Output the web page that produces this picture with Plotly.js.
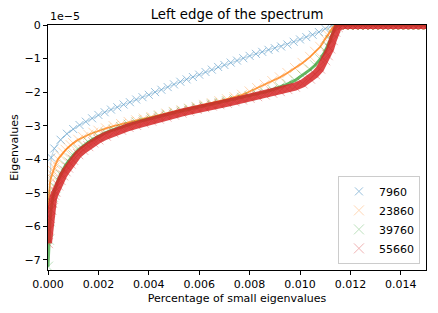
<!DOCTYPE html>
<html>
<head>
<meta charset="utf-8">
<script src="https://cdn.plot.ly/plotly-3.0.1.min.js"></script>
<style>
  html, body { margin: 0; padding: 0; background: #ffffff; }
  #chart { width: 438px; height: 313px; }
</style>
</head>
<body>
<div id="chart"></div>
<script>
// Eigenvalues are in units of 1e-5 (axis offset label "1e−5")
const seriesNames = ["7960", "23860", "39760", "55660"];
const seriesColors = ["#1f77b4", "#ff7f0e", "#2ca02c", "#d62728"];

const blueX = [0, 0.000126, 0.00025, 0.0005, 0.00075, 0.001, 0.00125, 0.0015, 0.00175, 0.002,
  0.00225, 0.0025, 0.00275, 0.003, 0.00325, 0.0035, 0.00375, 0.004, 0.00425, 0.0045,
  0.00475, 0.005, 0.00525, 0.0055, 0.00575, 0.006, 0.00625, 0.0065, 0.00675, 0.007,
  0.00725, 0.0075, 0.00775, 0.008, 0.00825, 0.0085, 0.00875, 0.009, 0.00925, 0.0095,
  0.00975, 0.01, 0.01025, 0.0105, 0.01075, 0.011, 0.01125, 0.0115];
const blueY = [-5.7, -3.95, -3.68, -3.42, -3.24, -3.1, -2.98, -2.88, -2.78, -2.68,
  -2.6, -2.52, -2.45, -2.37, -2.3, -2.22, -2.15, -2.08, -2.0, -1.93,
  -1.85, -1.77, -1.69, -1.62, -1.55, -1.48, -1.4, -1.33, -1.25, -1.19,
  -1.12, -1.06, -0.99, -0.92, -0.86, -0.8, -0.74, -0.69, -0.64, -0.58,
  -0.5, -0.43, -0.36, -0.29, -0.21, -0.11, -0.02, 0];

const gridX = [0, 0.00004, 0.00008, 0.00012, 0.00016, 0.0002, 0.00025, 0.0003, 0.0004, 0.0005,
  0.0006, 0.0007, 0.0008, 0.0009, 0.001, 0.0012, 0.0014, 0.0016, 0.0018, 0.002,
  0.0023, 0.0026, 0.0029, 0.0032, 0.0035, 0.0038, 0.0041, 0.0044, 0.0047, 0.005,
  0.0053, 0.0056, 0.0059, 0.0062, 0.0065, 0.0068, 0.0071, 0.0074, 0.0077, 0.008,
  0.0083, 0.0086, 0.0089, 0.0092, 0.0095, 0.0098, 0.0101, 0.0104, 0.0106, 0.0108,
  0.011, 0.0111, 0.0112, 0.0113, 0.0114, 0.0115];
const orangeY = [-5.5, -4.95, -4.7, -4.55, -4.45, -4.35, -4.25, -4.15, -4.0, -3.9,
  -3.8, -3.72, -3.65, -3.58, -3.52, -3.42, -3.34, -3.27, -3.21, -3.15,
  -3.08, -3.01, -2.95, -2.89, -2.84, -2.79, -2.74, -2.69, -2.64, -2.59,
  -2.54, -2.49, -2.44, -2.38, -2.33, -2.27, -2.21, -2.15, -2.08, -1.98,
  -1.88, -1.78, -1.67, -1.56, -1.43, -1.28, -1.13, -0.95, -0.8, -0.65,
  -0.42, -0.3, -0.2, -0.08, 0, 0];
const greenY = [-7.2, -6.4, -5.85, -5.5, -5.28, -5.12, -4.97, -4.84, -4.63, -4.46,
  -4.31, -4.18, -4.07, -3.97, -3.88, -3.72, -3.6, -3.49, -3.4, -3.32,
  -3.21, -3.12, -3.04, -2.97, -2.9, -2.84, -2.78, -2.72, -2.67, -2.61,
  -2.56, -2.51, -2.46, -2.41, -2.36, -2.32, -2.27, -2.22, -2.17, -2.12,
  -2.06, -2.0, -1.93, -1.85, -1.76, -1.65, -1.5, -1.33, -1.2, -1.02,
  -0.78, -0.63, -0.45, -0.25, -0.08, 0];
const redY = [-6.5, -6.1, -5.75, -5.5, -5.3, -5.18, -5.06, -4.96, -4.78, -4.62,
  -4.48, -4.36, -4.25, -4.13, -4.02, -3.85, -3.72, -3.61, -3.5, -3.41,
  -3.3, -3.2, -3.12, -3.04, -2.98, -2.91, -2.85, -2.79, -2.73, -2.67,
  -2.61, -2.56, -2.5, -2.45, -2.4, -2.36, -2.32, -2.27, -2.22, -2.17,
  -2.12, -2.07, -2.02, -1.97, -1.91, -1.84, -1.74, -1.6, -1.47, -1.3,
  -1.05, -0.9, -0.7, -0.45, -0.2, -0.06];

const tailX = [0.0117, 0.0119, 0.0121, 0.0123, 0.0125, 0.0127, 0.0129, 0.0131, 0.0133, 0.0135,
  0.0137, 0.0139, 0.0141, 0.0143, 0.0145, 0.0147, 0.0149, 0.0151];
const tailY = [0, 0, 0, 0, 0, 0, 0, 0, 0, 0, 0, 0, 0, 0, 0, 0, 0, 0];

const xTickVals = [0, 0.002, 0.004, 0.006, 0.008, 0.010, 0.012, 0.014];
const yTickVals = [-7, -6, -5, -4, -3, -2, -1, 0];

const seriesX = [blueX.concat(tailX), gridX.concat(tailX), gridX.concat(tailX), gridX.concat(tailX)];
const seriesY = [blueY.concat(tailY), orangeY.concat(tailY), greenY.concat(tailY), redY.concat(tailY)];
const bandWidth = [1, 1.8, 3, 8];
const bandOpacity = [0.3, 0.75, 0.7, 0.85];
const markerSize = [8, 10, 10, 10];
const markerOpacity = [0.45, 0.3, 0.3, 0.35];

const traces = [];
for (let i = 0; i < 4; i++) {
  traces.push({
    x: seriesX[i], y: seriesY[i], type: 'scatter', mode: 'lines',
    line: {color: seriesColors[i], width: bandWidth[i]},
    opacity: bandOpacity[i], showlegend: false, hoverinfo: 'skip'
  });
  traces.push({
    x: seriesX[i], y: seriesY[i], type: 'scatter', mode: 'markers', name: seriesNames[i],
    marker: {symbol: 'x-thin', size: markerSize[i], color: seriesColors[i], opacity: markerOpacity[i],
             line: {width: 1, color: seriesColors[i]}}
  });
}

const layout = {
  width: 438, height: 313,
  margin: {l: 48, r: 12, t: 25, b: 43, pad: 0},
  paper_bgcolor: '#ffffff', plot_bgcolor: '#ffffff',
  font: {family: 'DejaVu Sans', size: 11, color: '#000000'},
  title: {text: 'Left edge of the spectrum', font: {size: 13.3, color: '#000000'},
          x: 0.5, xref: 'paper', xanchor: 'center', y: 0.955, yref: 'container', yanchor: 'middle'},
  showlegend: true,
  legend: {x: 0.984, xanchor: 'right', y: 0.025, yanchor: 'bottom',
           bgcolor: 'rgba(255,255,255,0.8)', bordercolor: '#cccccc', borderwidth: 1,
           font: {size: 11}, tracegroupgap: 0},
  xaxis: {range: [0, 0.015], tickvals: xTickVals, tickformat: '.3f',
          ticks: 'outside', ticklen: 4, tickwidth: 1, tickcolor: '#000',
          showline: true, mirror: true, linecolor: '#000', linewidth: 1,
          showgrid: false, zeroline: false,
          title: {text: 'Percentage of small eigenvalues', font: {size: 11}, standoff: 4}},
  yaxis: {range: [-7.3, 0], tickvals: yTickVals,
          ticks: 'outside', ticklen: 4, tickwidth: 1, tickcolor: '#000',
          showline: true, mirror: true, linecolor: '#000', linewidth: 1,
          showgrid: false, zeroline: false,
          title: {text: 'Eigenvalues', font: {size: 11}, standoff: 3}},
  annotations: [{text: '1e\u22125', x: 0, xref: 'paper', xanchor: 'left',
                 y: 1, yref: 'paper', yanchor: 'bottom', showarrow: false,
                 font: {size: 11}, yshift: 0}]
};

Plotly.newPlot('chart', traces, layout, {displayModeBar: false, staticPlot: true});
</script>
</body>
</html>
